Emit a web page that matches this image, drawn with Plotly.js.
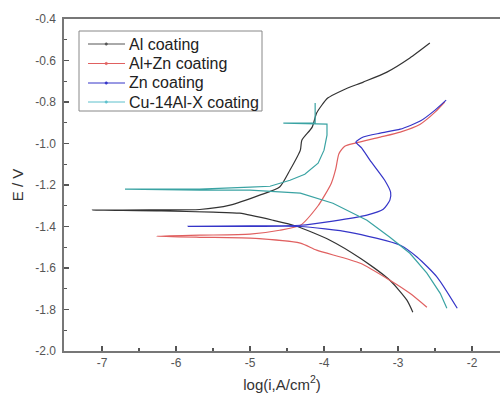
<!DOCTYPE html>
<html>
<head>
<meta charset="utf-8">
<script src="https://cdn.plot.ly/plotly-3.0.1.min.js"></script>
<style>
html,body{margin:0;padding:0;overflow:hidden;background:#fff;}
#chart{width:500px;height:398px;}
</style>
</head>
<body>
<div id="chart"></div>
<script>
// Series names
const seriesNames = ["Al coating", "Al+Zn coating", "Zn coating", "Cu-14Al-X coating"];

// Al coating: cathodic branch (reversed) then anodic branch
const alX = [-2.80, -2.88, -3.11, -3.51, -3.92, -4.37, -4.69, -5.14, -5.50, -6.20, -7.13,
             -6.35, -5.68, -5.27, -4.87, -4.60, -4.46, -4.32, -4.30, -4.16, -4.10, -3.95, -3.74, -3.47, -3.15, -2.84, -2.57];
const alY = [-1.813, -1.755, -1.659, -1.553, -1.466, -1.399, -1.370, -1.336, -1.331, -1.325, -1.321,
             -1.320, -1.318, -1.297, -1.249, -1.210, -1.128, -1.032, -0.984, -0.921, -0.853, -0.781, -0.742, -0.704, -0.656, -0.588, -0.516];

// Al+Zn coating
const alznX = [-2.61, -2.84, -3.11, -3.51, -4.10, -4.32, -5.00, -5.68, -6.26,
               -5.68, -5.00, -4.60, -4.32, -4.08, -3.99, -3.90, -3.84, -3.80, -3.72, -3.58, -3.24, -2.97, -2.70, -2.50, -2.37];
const alznY = [-1.789, -1.722, -1.659, -1.577, -1.514, -1.480, -1.456, -1.452, -1.447,
               -1.442, -1.437, -1.418, -1.394, -1.300, -1.249, -1.190, -1.120, -1.050, -1.013, -0.998, -0.969, -0.945, -0.907, -0.849, -0.800];

// Zn coating
const znX = [-2.20, -2.47, -2.74, -2.97, -3.65, -4.32, -5.00, -5.84,
             -5.00, -4.32, -3.88, -3.42, -3.20, -3.11, -3.10, -3.18, -3.38, -3.49, -3.57, -3.47, -3.24, -2.97, -2.70, -2.50, -2.35];
const znY = [-1.794, -1.645, -1.548, -1.490, -1.428, -1.400, -1.400, -1.399,
             -1.397, -1.394, -1.374, -1.345, -1.317, -1.273, -1.235, -1.177, -1.080, -1.022, -0.993, -0.969, -0.950, -0.931, -0.892, -0.839, -0.791];

// Cu-14Al-X coating
const cuX = [-2.34, -2.43, -2.61, -2.84, -3.11, -3.42, -3.88, -4.32, -5.00, -5.68, -6.69,
             -5.68, -5.00, -4.73, -4.46, -4.26, -4.08, -4.00, -3.96, -3.96, -4.55, -4.12, -4.12];
const cuY = [-1.794, -1.722, -1.625, -1.529, -1.452, -1.370, -1.288, -1.239, -1.225, -1.225, -1.220,
             -1.220, -1.210, -1.206, -1.177, -1.148, -1.095, -1.032, -0.960, -0.907, -0.902, -0.902, -0.805];

const colors = ["#333333", "#e06060", "#3535c8", "#3aa3a3"];
const legendColors = ["#555555", "#e06060", "#3535c8", "#5cc0cc"];
const xs = [alX, alznX, znX, cuX];
const ys = [alY, alznY, znY, cuY];
const shapesByTrace = ["spline", "spline", "spline", "linear"];

const traces = seriesNames.map((n, i) => ({
  type: "scatter",
  mode: "lines",
  name: n,
  x: xs[i],
  y: ys[i],
  showlegend: false,
  line: {color: colors[i], width: 1.2, shape: shapesByTrace[i], smoothing: 0.6}
}));

// custom legend (paper coordinates)
const font = "Liberation Sans, Arial, sans-serif";
const plotL = 64, plotW = 436, plotB = 351, plotH = 332;
const px2x = p => (p - plotL) / plotW;
const py2y = p => (plotB - p) / plotH;
const legendRowsPx = [44, 63.5, 83, 102];
const shapes = [{
  type: "rect", xref: "paper", yref: "paper",
  x0: px2x(79), x1: px2x(262), y0: py2y(111), y1: py2y(31),
  line: {color: "#888", width: 1}, fillcolor: "rgba(255,255,255,0)"
}];
const annotations = [];
seriesNames.forEach((n, i) => {
  const yy = py2y(legendRowsPx[i]);
  shapes.push({type: "line", xref: "paper", yref: "paper",
    x0: px2x(88), x1: px2x(125), y0: yy, y1: yy,
    line: {color: legendColors[i], width: 1}});
  shapes.push({type: "circle", xref: "paper", yref: "paper",
    x0: px2x(105), x1: px2x(107.5), y0: py2y(legendRowsPx[i] + 1.25), y1: py2y(legendRowsPx[i] - 1.25),
    line: {color: legendColors[i], width: 0.5}, fillcolor: legendColors[i]});
  annotations.push({xref: "paper", yref: "paper", x: px2x(127), y: yy,
    xanchor: "left", yanchor: "middle", showarrow: false, text: n,
    font: {family: font, size: 16, color: "#222"}});
});

const axisFont = {family: font, size: 12, color: "#555"};

const layout = {
  width: 500,
  height: 398,
  margin: {l: 64, r: 0, t: 19, b: 47},
  paper_bgcolor: "#fff",
  plot_bgcolor: "#fff",
  showlegend: false,
  shapes: shapes,
  annotations: annotations,
  xaxis: {
    range: [-7.514, -1.622],
    tickvals: [-7, -6, -5, -4, -3, -2],
    ticktext: ["-7", "-6", "-5", "-4", "-3", "-2"],
    ticks: "inside", ticklen: 5, tickwidth: 1.2, tickcolor: "#555",
    minor: {tickvals: [-6.5, -5.5, -4.5, -3.5, -2.5], ticks: "inside", ticklen: 3, tickcolor: "#555"},
    showline: true, linecolor: "#777", linewidth: 1.6, mirror: true,
    showgrid: false, zeroline: false,
    tickfont: axisFont,
    title: {text: "log(i,A/cm<sup>2</sup>)", font: {family: font, size: 15, color: "#333"}, standoff: 10}
  },
  yaxis: {
    range: [-2.0, -0.4],
    tickvals: [-2.0, -1.8, -1.6, -1.4, -1.2, -1.0, -0.8, -0.6, -0.4],
    ticktext: ["-2.0", "-1.8", "-1.6", "-1.4", "-1.2", "-1.0", "-0.8", "-0.6", "-0.4"],
    ticks: "inside", ticklen: 5, tickwidth: 1.2, tickcolor: "#555",
    minor: {tickvals: [-1.9, -1.7, -1.5, -1.3, -1.1, -0.9, -0.7, -0.5], ticks: "inside", ticklen: 3, tickcolor: "#555"},
    showline: true, linecolor: "#777", linewidth: 1.6, mirror: false,
    showgrid: false, zeroline: false,
    tickfont: axisFont,
    ticklabelstandoff: 4,
    title: {text: "E / V", font: {family: font, size: 15, color: "#333"}, standoff: 8}
  }
};

Plotly.newPlot("chart", traces, layout, {displayModeBar: false, staticPlot: true});
</script>
</body>
</html>
